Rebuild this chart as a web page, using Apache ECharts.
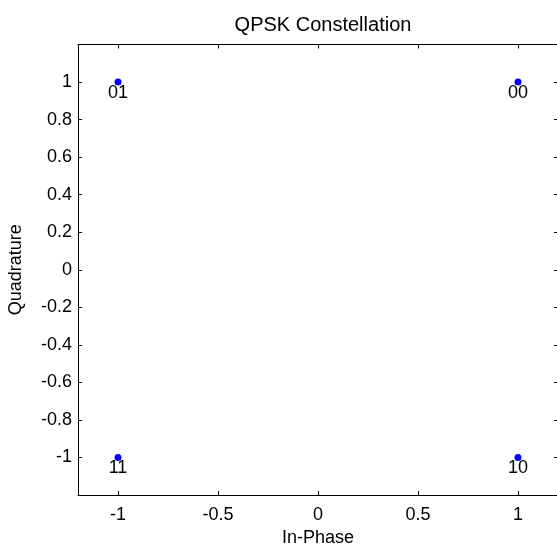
<!DOCTYPE html>
<html><head><meta charset="utf-8">
<script src="https://cdn.jsdelivr.net/npm/echarts@6/dist/echarts.min.js"></script>
<style>html,body{margin:0;padding:0;background:#fff}#c{width:557px;height:545px}</style>
</head><body><div id="c"></div>
<script>
const inPhase = [1, -1, -1, 1];
const quadrature = [1, 1, -1, -1];
const symbolLabels = ['00', '01', '11', '10'];
const xTicks = [-1, -0.5, 0, 0.5, 1];
const yTicks = [-1, -0.8, -0.6, -0.4, -0.2, 0, 0.2, 0.4, 0.6, 0.8, 1];

const font = 'Liberation Sans, Arial, sans-serif';
const chart = echarts.init(document.getElementById('c'));
const axisCommon = {
  min: -1.2, max: 1.2,
  axisLine: {show: true, onZero: false, lineStyle: {color: '#000', width: 1}},
  splitLine: {show: false}
};
chart.setOption({
  animation: false,
  title: {text: 'QPSK Constellation', left: 318, top: 10, textAlign: 'center',
    textStyle: {fontFamily: font, fontSize: 20, fontWeight: 'normal', color: '#000'}},
  grid: {left: 78, right: -1, top: 44.5, bottom: 50, containLabel: false, outerBoundsMode: 'none'},
  xAxis: [
    Object.assign({}, axisCommon, {type: 'value', position: 'bottom',
      name: 'In-Phase', nameLocation: 'middle', nameGap: 34,
      nameTextStyle: {fontFamily: font, fontSize: 18, color: '#000'},
      axisTick: {show: true, inside: true, length: 4, customValues: xTicks, lineStyle: {color: '#000'}},
      axisLabel: {show: true, customValues: xTicks, margin: 11, fontFamily: font, fontSize: 18, color: '#000'}}),
    Object.assign({}, axisCommon, {type: 'value', position: 'top',
      axisTick: {show: true, inside: true, length: 4, customValues: xTicks, lineStyle: {color: '#000'}},
      axisLabel: {show: false}})
  ],
  yAxis: [
    Object.assign({}, axisCommon, {type: 'value', position: 'left',
      name: 'Quadrature', nameLocation: 'middle', nameGap: 53, nameRotate: 90,
      nameTextStyle: {fontFamily: font, fontSize: 18, color: '#000'},
      axisTick: {show: true, inside: true, length: 4, customValues: yTicks, lineStyle: {color: '#000'}},
      axisLabel: {show: true, customValues: yTicks, margin: 6, fontFamily: font, fontSize: 18, color: '#000'}}),
    Object.assign({}, axisCommon, {type: 'value', position: 'right',
      axisTick: {show: true, inside: true, length: 4, customValues: yTicks, lineStyle: {color: '#000'}},
      axisLabel: {show: false}})
  ],
  series: [{
    type: 'scatter', xAxisIndex: 0, yAxisIndex: 0,
    symbol: 'circle', symbolSize: 7,
    itemStyle: {color: '#0000ff', opacity: 1},
    label: {show: true, position: 'bottom', distance: -2,
      formatter: p => symbolLabels[p.dataIndex],
      fontFamily: font, fontSize: 18, color: '#000'},
    data: inPhase.map((v, i) => [v, quadrature[i]])
  }]
});
</script></body></html>
